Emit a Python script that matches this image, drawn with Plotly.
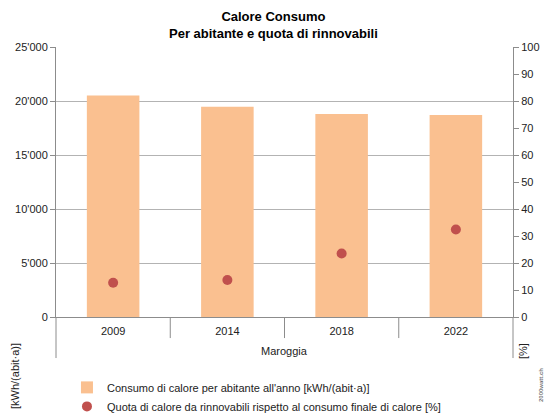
import plotly.graph_objects as go

group_label = "Maroggia"
years = ["2009", "2014", "2018", "2022"]
consumo = [20500, 19470, 18800, 18700]
quota = [12.7, 13.7, 23.5, 32.4]

FONT = "Liberation Sans, Arial, sans-serif"
GRID = "#b3b3b3"
AX = "#8c8c8c"

fig = go.Figure()
fig.add_trace(go.Bar(
    x=years, y=consumo, width=0.46,
    marker=dict(color="#FAC090", line=dict(width=0)),
    name="Consumo di calore per abitante all'anno [kWh/(abit·a)]",
))
fig.add_trace(go.Scatter(
    x=years, y=quota, yaxis="y2", mode="markers",
    marker=dict(color="#C0504D", size=10),
    name="Quota di calore da rinnovabili rispetto al consumo finale di calore [%]",
))

# category separators below the axis
shapes = [dict(type="line", xref="x domain", yref="paper", x0=e, x1=e, y0=0, y1=-0.152,
               line=dict(color=AX, width=1)) for e in (0, 1)]
shapes += [dict(type="line", xref="x", yref="paper", x0=i + 0.5, x1=i + 0.5, y0=0, y1=-0.078,
                line=dict(color=AX, width=1)) for i in range(len(years) - 1)]

def ann(text, x, y, size=11, angle=0, color="#222", bold=False):
    return dict(text=f"<b>{text}</b>" if bold else text, xref="paper", yref="paper",
                x=x, y=y, xanchor="center", yanchor="middle", textangle=angle,
                showarrow=False, font=dict(size=size, color=color))

fig.update_layout(
    width=550, height=414,
    margin=dict(l=56, r=37, t=47, b=97, autoexpand=False),
    paper_bgcolor="white", plot_bgcolor="white",
    font=dict(family=FONT, size=11, color="#222"),
    separators=".'",
    showlegend=True,
    xaxis=dict(type="category", showline=True, linecolor=AX, linewidth=1,
               ticks="", showgrid=False, tickfont=dict(size=11), ticklabelstandoff=4),
    yaxis=dict(range=[0, 25000], dtick=5000, tickformat=",", showgrid=True,
               gridcolor=GRID, gridwidth=1, showline=True, linecolor=AX,
               ticks="outside", ticklen=5, tickcolor=AX, zeroline=False,
               tickfont=dict(size=11)),
    yaxis2=dict(range=[0, 100], dtick=10, overlaying="y", side="right",
                showgrid=False, showline=True, linecolor=AX, ticks="outside",
                ticklen=5, tickcolor=AX, zeroline=False, tickfont=dict(size=11)),
    legend=dict(x=0.024, y=-0.207, xanchor="left", yanchor="top",
                font=dict(size=11), bgcolor="rgba(0,0,0,0)", itemwidth=30),
    shapes=shapes,
    annotations=[
        ann("Calore Consumo<br>Per abitante e quota di rinnovabili", 0.475,
            (317 - 25) / 270, size=13, color="#000", bold=True),
        ann(group_label, 0.5, (317 - 351) / 270),
        ann("[kWh/(abit·a)]", (15 - 56) / 457, (317 - 376) / 270, angle=-90),
        ann("[%]", 1 + (523 - 513) / 457, (317 - 351) / 270, angle=-90),
        ann("2000watt.ch", 1 + (541 - 513) / 457, (317 - 385) / 270, size=6,
            angle=-90, color="#777", bold=True),
    ],
)

fig.write_html("out.html", config={"displayModeBar": False},
               post_script="document.body.style.margin='0';document.body.style.overflow='hidden';")
